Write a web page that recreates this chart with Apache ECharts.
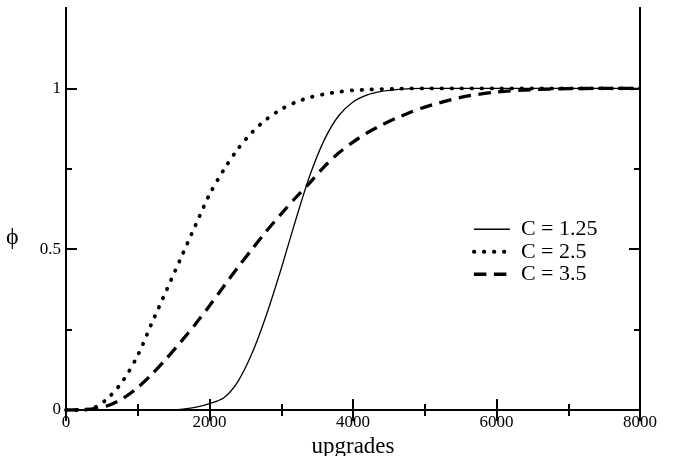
<!DOCTYPE html>
<html>
<head>
<meta charset="utf-8">
<script src="https://cdn.jsdelivr.net/npm/echarts@6/dist/echarts.min.js"></script>
<style>html,body{margin:0;padding:0;background:#fff;}#c{width:673px;height:456px;}</style>
</head>
<body>
<div id="c"></div>
<script>
const upgrades = [0,200,400,600,800,1000,1200,1400,1600,1800,2000,2200,2400,2600,2800,3000,3200,3400,3600,3800,4000,4200,4400,4600,4800,5000,5500,6000,6500,7000,7500,8000];
const phiC125 = [0,0,0,0,0,0,0,0,0.002,0.008,0.02,0.038,0.09,0.18,0.30,0.44,0.59,0.73,0.84,0.915,0.958,0.98,0.991,0.996,0.999,1,1,1,1,1,1,1];
const phiC25  = [0,0,0.008,0.04,0.093,0.17,0.272,0.372,0.472,0.572,0.67,0.747,0.813,0.865,0.905,0.935,0.957,0.972,0.982,0.989,0.994,0.996,0.998,0.999,1,1,1,1,1,1,1,1];
const phiC35  = [0,0.001,0.004,0.015,0.037,0.07,0.112,0.16,0.212,0.266,0.324,0.385,0.445,0.502,0.558,0.61,0.66,0.707,0.757,0.799,0.833,0.862,0.886,0.907,0.926,0.942,0.972,0.989,0.996,0.999,1,1];
const seriesNames = ['C = 1.25','C = 2.5','C = 3.5'];
const xTicks = [0,2000,4000,6000,8000];
const yMajor = [0,0.5,1];
const yMinor = [0.25,0.75];

const font = 'Liberation Serif';
const pair = (ys) => upgrades.map((x,i) => [x, ys[i]]);
const plain = (v) => String(v);

const axisLineStyle = {show:true, lineStyle:{color:'#000', width:2}};
const xBase = {type:'value', min:0, max:8000, interval:2000, splitLine:{show:false}, axisLine:axisLineStyle,
  axisTick:{show:true, inside:true, length:11, lineStyle:{color:'#000', width:2}},
  minorTick:{show:true, splitNumber:2, length:6, lineStyle:{color:'#000', width:2}}};
const yBase = {type:'value', min:0, max:1.25, splitLine:{show:false}, axisLine:axisLineStyle};

const option = {
  animation:false,
  backgroundColor:'#fff',
  grid:{left:66, right:33, top:8, bottom:46, outerBoundsMode:'none', containLabel:false},
  xAxis:[
    Object.assign({}, xBase, {position:'bottom', name:'upgrades', nameLocation:'middle', nameGap:25,
      nameTextStyle:{fontFamily:font, fontSize:23, color:'#000'},
      axisLabel:{show:true, fontFamily:font, fontSize:17, color:'#000', margin:4, customValues:xTicks, formatter:plain}}),
    Object.assign({}, xBase, {position:'top', axisLabel:{show:false}})
  ],
  yAxis:[
    Object.assign({}, yBase, {position:'left',
      axisTick:{show:true, inside:true, length:11, customValues:yMajor, lineStyle:{color:'#000', width:2}},
      axisLabel:{show:true, fontFamily:font, fontSize:17, color:'#000', margin:5, customValues:yMajor, formatter:plain}}),
    Object.assign({}, yBase, {position:'left',
      axisTick:{show:true, inside:true, length:6, customValues:yMinor, lineStyle:{color:'#000', width:2}},
      axisLabel:{show:false}}),
    Object.assign({}, yBase, {position:'right',
      axisTick:{show:true, inside:true, length:11, customValues:yMajor, lineStyle:{color:'#000', width:2}},
      axisLabel:{show:false}}),
    Object.assign({}, yBase, {position:'right',
      axisTick:{show:true, inside:true, length:6, customValues:yMinor, lineStyle:{color:'#000', width:2}},
      axisLabel:{show:false}})
  ],
  legend:{
    orient:'vertical', left:467, top:213, itemWidth:36, itemHeight:12, itemGap:0,
    itemStyle:{color:'transparent', borderWidth:0, opacity:0},
    lineStyle:{width:'inherit'},
    textStyle:{fontFamily:font, fontSize:22, color:'#000', lineHeight:22.5, padding:[0,0,0,6]},
    data:seriesNames
  },
  graphic:[{type:'text', left:6, top:226, style:{text:'\u03D5', font:'24px "Liberation Serif"', fill:'#000'}}],
  series:[
    {name:seriesNames[0], type:'line', data:pair(phiC125), showSymbol:false, symbol:'none', smooth:0.3,
      lineStyle:{color:'#000', width:1.3, type:'solid'}, itemStyle:{color:'#000'}},
    {name:seriesNames[1], type:'line', data:pair(phiC25), showSymbol:false, symbol:'none', smooth:0.3,
      lineStyle:{color:'#000', width:3.8, type:[0.5,9.5], cap:'round'}, itemStyle:{color:'#000'}},
    {name:seriesNames[2], type:'line', data:pair(phiC35), showSymbol:false, symbol:'none', smooth:0.3,
      lineStyle:{color:'#000', width:3.3, type:[12.5,7.5], cap:'butt'}, itemStyle:{color:'#000'}}
  ]
};
echarts.init(document.getElementById('c')).setOption(option);
</script>
</body>
</html>
